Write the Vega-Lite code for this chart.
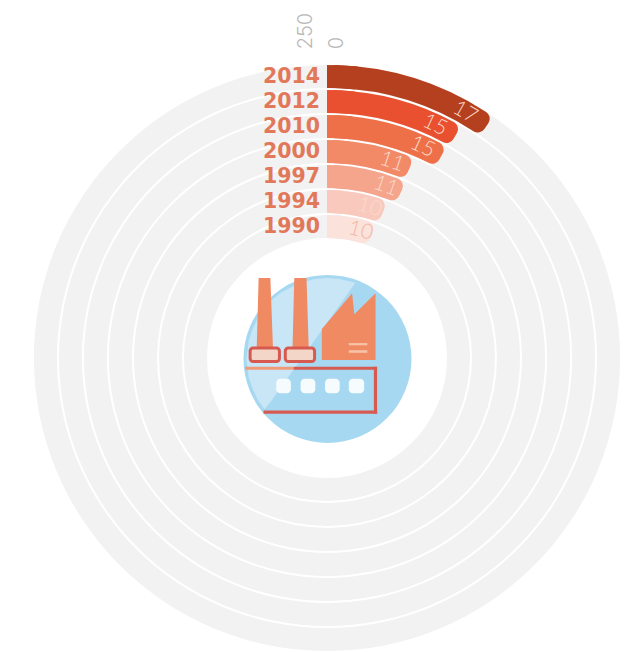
{
  "$schema": "https://vega.github.io/schema/vega-lite/v6.json",
  "width": 586,
  "height": 586,
  "autosize": "none",
  "padding": {"left": 34, "top": 65, "right": 16, "bottom": 1},
  "background": "white",
  "config": {"view": {"stroke": null}},
  "datasets": {
    "years": [
      {"year": "1990", "label": "10", "sweep": 20},
      {"year": "1994", "label": "10", "sweep": 21},
      {"year": "1997", "label": "11", "sweep": 24},
      {"year": "2000", "label": "11", "sweep": 23.5},
      {"year": "2010", "label": "15", "sweep": 29.5},
      {"year": "2012", "label": "15", "sweep": 30},
      {"year": "2014", "label": "17", "sweep": 34.5}
    ]
  },
  "encoding": {
    "radius": {"field": "year", "type": "nominal", "scale": {"type": "band", "domain": ["1990","1994","1997","2000","2010","2012","2014"], "range": [119, 294], "paddingInner": 0.08, "paddingOuter": 0.04}}
  },
  "layer": [
    {
      "data": {"name": "years"},
      "mark": {"type": "arc", "fill": "#f2f2f2"},
      "encoding": {
        "theta": {"datum": 360, "type": "quantitative", "stack": null, "scale": {"domain": [0, 360], "range": [0, 6.2832]}},
        "theta2": {"datum": 0}
      }
    },
    {
      "data": {"name": "years"},
      "mark": {"type": "arc", "cornerRadius": 8},
      "encoding": {
        "theta": {"field": "sweep", "type": "quantitative", "stack": null},
        "theta2": {"datum": 0},
        "color": {"field": "year", "type": "nominal", "legend": null, "scale": {"domain": ["1990","1994","1997","2000","2010","2012","2014"], "range": ["#fbe3dc","#f9c9be","#f4a58c","#f28a68","#ee7048","#e8502f","#b5401f"]}}
      }
    },
    {
      "data": {"name": "years"},
      "mark": {"type": "arc"},
      "encoding": {
        "theta": {"datum": 6, "type": "quantitative", "stack": null},
        "theta2": {"datum": 0},
        "color": {"field": "year", "type": "nominal", "legend": null}
      }
    },
    {
      "data": {"name": "years"},
      "mark": {"type": "text", "align": "right", "baseline": "middle", "xOffset": -7, "font": "DejaVu Sans", "fontWeight": "bold", "fontSize": 20.5, "fill": "#e2785a"},
      "encoding": {
        "theta": {"datum": 0, "type": "quantitative", "stack": null},
        "text": {"field": "year"}
      }
    },
    {
      "data": {"name": "years"},
      "mark": {"type": "text", "align": "center", "baseline": "middle", "thetaOffset": -0.09, "font": "Lato", "fontWeight": 300, "fontSize": 21},
      "encoding": {
        "theta": {"field": "sweep", "type": "quantitative", "stack": null},
        "angle": {"field": "sweep", "type": "quantitative", "scale": {"domain": [0, 360], "range": [-5, 355]}},
        "fill": {"condition": {"test": "datum.year === '1990'", "value": "#f0b8a6"}, "value": "#fbd9ca"},
        "text": {"field": "label"}
      }
    },
    {
      "data": {"values": [{"tick": "250", "u": -22, "v": -316}, {"tick": "0", "u": 10, "v": -316}]},
      "mark": {"type": "text", "angle": 270, "align": "left", "baseline": "middle", "font": "Inter", "fontWeight": 300, "fontSize": 20, "fill": "#b8b8b8"},
      "encoding": {
        "x": {"field": "u", "type": "quantitative", "axis": null, "scale": {"domain": [-293, 293]}},
        "y": {"field": "v", "type": "quantitative", "axis": null, "scale": {"domain": [293, -293]}},
        "text": {"field": "tick"},
        "radius": null
      }
    },
    {
      "data": {"values": [{"u": 0.5, "v": 1}]},
      "mark": {"type": "point", "filled": true, "size": 28224, "color": "#a6d9f1", "opacity": 1},
      "encoding": {"x": {"field": "u", "type": "quantitative"}, "y": {"field": "v", "type": "quantitative"}, "radius": null}
    },
    {
      "data": {"values": [
        {"u": -82.5, "a": 1, "b": 1}, {"u": -80, "a": -18, "b": 20}, {"u": -76, "a": -30, "b": 32},
        {"u": -71, "a": -40.4, "b": 42.4}, {"u": -64, "a": -50.6, "b": 52.6}, {"u": -57, "a": -59, "b": 43.8},
        {"u": -47, "a": -67, "b": 29.8}, {"u": -27, "a": -77.4, "b": 1.8}, {"u": -12, "a": -81, "b": -19.2},
        {"u": 0, "a": -82, "b": -36}, {"u": 13, "a": -81, "b": -54.2}, {"u": 29, "a": -77, "b": -77}
      ]},
      "mark": {"type": "area", "fill": "#c9e6f6"},
      "encoding": {"x": {"field": "u", "type": "quantitative"}, "y": {"field": "a", "type": "quantitative"}, "y2": {"field": "b"}, "radius": null}
    },
    {
      "data": {"values": [{"v": -82, "a": -70, "b": -58}, {"v": -10, "a": -72, "b": -55.3}]},
      "mark": {"type": "area", "orient": "horizontal", "fill": "#f08a62"},
      "encoding": {"y": {"field": "v", "type": "quantitative"}, "x": {"field": "a", "type": "quantitative"}, "x2": {"field": "b"}, "radius": null}
    },
    {
      "data": {"values": [{"v": -82, "a": -33.5, "b": -21}, {"v": -10, "a": -35.3, "b": -18.7}]},
      "mark": {"type": "area", "orient": "horizontal", "fill": "#f08a62"},
      "encoding": {"y": {"field": "v", "type": "quantitative"}, "x": {"field": "a", "type": "quantitative"}, "x2": {"field": "b"}, "radius": null}
    },
    {
      "data": {"values": [{"u": -5.3, "a": -29.7, "b": 2}, {"u": 25.7, "a": -66.3, "b": 2}, {"u": 28, "a": -44.7, "b": 2}, {"u": 49.7, "a": -66.3, "b": 2}]},
      "mark": {"type": "area", "fill": "#f08a62"},
      "encoding": {"x": {"field": "u", "type": "quantitative"}, "y": {"field": "a", "type": "quantitative"}, "y2": {"field": "b"}, "radius": null}
    },
    {
      "data": {"values": [{"a": -78.7, "b": -48.7, "c": -10.3, "d": 3.7}, {"a": -42.7, "b": -12.7, "c": -10.3, "d": 3.7}]},
      "mark": {"type": "rect", "fill": "#f4d6c8", "stroke": "#d65a50", "strokeWidth": 3, "cornerRadius": 3},
      "encoding": {"x": {"field": "a", "type": "quantitative"}, "x2": {"field": "b"}, "y": {"field": "c", "type": "quantitative"}, "y2": {"field": "d"}, "radius": null}
    },
    {
      "data": {"values": [{"a": 22.3, "b": 41.3, "c": -15.3, "d": -13}, {"a": 22.3, "b": 41.3, "c": -8, "d": -5.3}]},
      "mark": {"type": "rect", "fill": "#f7c2a8"},
      "encoding": {"x": {"field": "a", "type": "quantitative"}, "x2": {"field": "b"}, "y": {"field": "c", "type": "quantitative"}, "y2": {"field": "d"}, "radius": null}
    },
    {
      "data": {"values": [{"a": -83.7, "b": -33.7, "c": 9, "d": 12}]},
      "mark": {"type": "rect", "fill": "#f09a78"},
      "encoding": {"x": {"field": "a", "type": "quantitative"}, "x2": {"field": "b"}, "y": {"field": "c", "type": "quantitative"}, "y2": {"field": "d"}, "radius": null}
    },
    {
      "data": {"values": [{"a": -34, "b": 51.3, "c": 9, "d": 12}, {"a": 48, "b": 51.3, "c": 9, "d": 57}, {"a": -65, "b": 51.3, "c": 53.7, "d": 57}]},
      "mark": {"type": "rect", "fill": "#d65a50"},
      "encoding": {"x": {"field": "a", "type": "quantitative"}, "x2": {"field": "b"}, "y": {"field": "c", "type": "quantitative"}, "y2": {"field": "d"}, "radius": null}
    },
    {
      "data": {"values": [{"a": -52, "b": -37, "c": 21.3, "d": 36}, {"a": -27, "b": -12, "c": 21.3, "d": 36}, {"a": -2, "b": 13, "c": 21.3, "d": 36}, {"a": 22.3, "b": 38, "c": 21.3, "d": 36}]},
      "mark": {"type": "rect", "fill": "#f6fbfd", "cornerRadius": 4},
      "encoding": {"x": {"field": "a", "type": "quantitative"}, "x2": {"field": "b"}, "y": {"field": "c", "type": "quantitative"}, "y2": {"field": "d"}, "radius": null}
    }
  ]
}
